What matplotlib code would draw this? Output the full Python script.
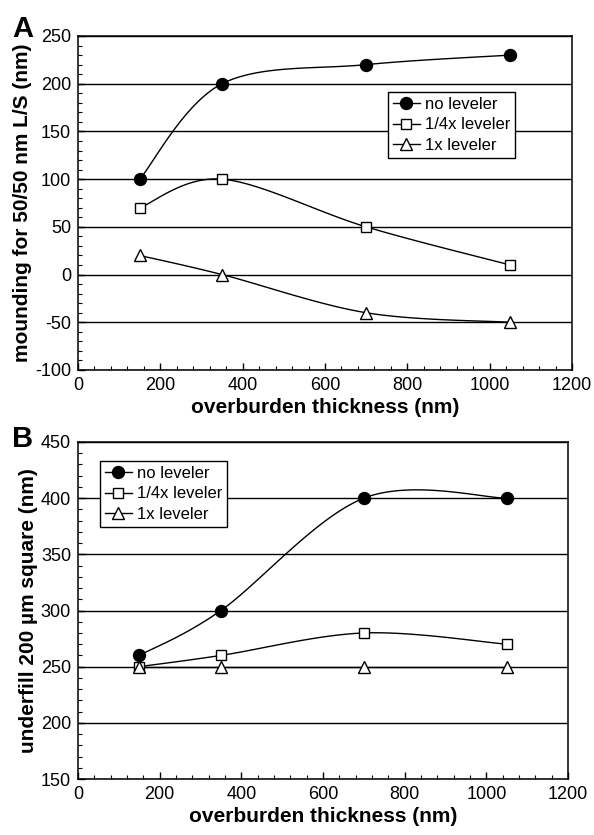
import numpy as np
import matplotlib
matplotlib.use("Agg")
import matplotlib.pyplot as plt
from matplotlib.ticker import MultipleLocator

plt.rcParams['font.family'] = ['Liberation Sans', 'DejaVu Sans']
plt.rcParams['axes.unicode_minus'] = False

x = [150, 350, 700, 1050]
labels = ["no leveler", "1/4x leveler", "1x leveler"]

a_none = [100, 200, 220, 230]
a_quarter = [70, 100, 50, 10]
a_one = [20, 0, -40, -50]

b_none = [260, 300, 400, 400]
b_quarter = [250, 260, 280, 270]
b_one = [250, 250, 250, 250]


def smooth(xs, ys, n=40):
    P = np.column_stack([xs, ys]).astype(float)
    out = [P[0]]
    for i in range(len(P) - 1):
        p0 = P[i - 1] if i > 0 else P[i]
        p1 = P[i]
        p2 = P[i + 1]
        p3 = P[i + 2] if i + 2 < len(P) else P[i + 1]
        c1 = p1 + (p2 - p0) / 6.0
        c2 = p2 - (p3 - p1) / 6.0
        t = np.linspace(0, 1, n)[1:, None]
        seg = ((1 - t) ** 3) * p1 + 3 * ((1 - t) ** 2) * t * c1 + 3 * (1 - t) * t ** 2 * c2 + t ** 3 * p2
        out.extend(seg)
    out = np.array(out)
    return out[:, 0], out[:, 1]


fig = plt.figure(figsize=(5.94, 8.35), dpi=100)
W, H = 594, 835
axA = fig.add_axes([78 / W, 1 - 370 / H, (572 - 78) / W, (370 - 36) / H])
axB = fig.add_axes([78 / W, 1 - 779 / H, (568 - 78) / W, (779 - 442) / H])

styles = [
    dict(marker='o', markersize=8.6, markerfacecolor='black', markeredgecolor='black'),
    dict(marker='s', markersize=7.6, markerfacecolor='white', markeredgecolor='black', markeredgewidth=1.0),
    dict(marker='^', markersize=8.2, markerfacecolor='white', markeredgecolor='black', markeredgewidth=1.0),
]


def draw(ax, series, ylim, ymajor, yminor, ylabel, legloc, letter, letter_y):
    ax.set_xlim(0, 1200)
    ax.set_ylim(*ylim)
    ax.xaxis.set_major_locator(MultipleLocator(200))
    ax.xaxis.set_minor_locator(MultipleLocator(40))
    ax.yaxis.set_major_locator(MultipleLocator(ymajor))
    ax.yaxis.set_minor_locator(MultipleLocator(yminor))
    ax.tick_params(which='both', direction='in', top=False, right=False, labelsize=13)
    ax.tick_params(which='major', length=5, width=1, pad=5)
    ax.tick_params(which='minor', length=3, width=0.8)
    ax.grid(axis='y', which='major', color='black', linewidth=1)
    ax.set_axisbelow(True)
    for s in ax.spines.values():
        s.set_linewidth(1.1)
    for ys, lab, st in zip(series, labels, styles):
        sx, sy = smooth(x, ys)
        ax.plot(sx, sy, color='black', linewidth=1, zorder=3)
        ax.plot(x, ys, linestyle='none', zorder=4, **st)
        ax.plot([], [], color='black', linewidth=1, label=lab, **st)
    ax.set_xlabel("overburden thickness (nm)", fontsize=15, fontweight='bold', labelpad=3)
    ax.set_ylabel(ylabel, fontsize=15, fontweight='bold', labelpad=2)
    leg = ax.legend(loc='upper left', bbox_to_anchor=legloc, frameon=True, fancybox=False,
                    edgecolor='black', framealpha=1, fontsize=12, handlelength=1.6,
                    handletextpad=0.3, borderpad=0.3, labelspacing=0.33, borderaxespad=0)
    leg.get_frame().set_linewidth(1)
    leg.set_zorder(5)
    fig.text(12 / W, 1 - letter_y / H, letter, fontsize=21, fontweight='bold',
             ha='left', va='baseline')


draw(axA, [a_none, a_quarter, a_one], (-100, 250), 50, 10,
     "mounding for 50/50 nm L/S (nm)", ((388 - 78) / 494, (370 - 92) / 334), "A", 37)
draw(axB, [b_none, b_quarter, b_one], (150, 450), 50, 10,
     "underfill 200 µm square (nm)", ((100 - 78) / 490, (779 - 461) / 337), "B", 447)

fig.savefig("out.png", dpi=100)
